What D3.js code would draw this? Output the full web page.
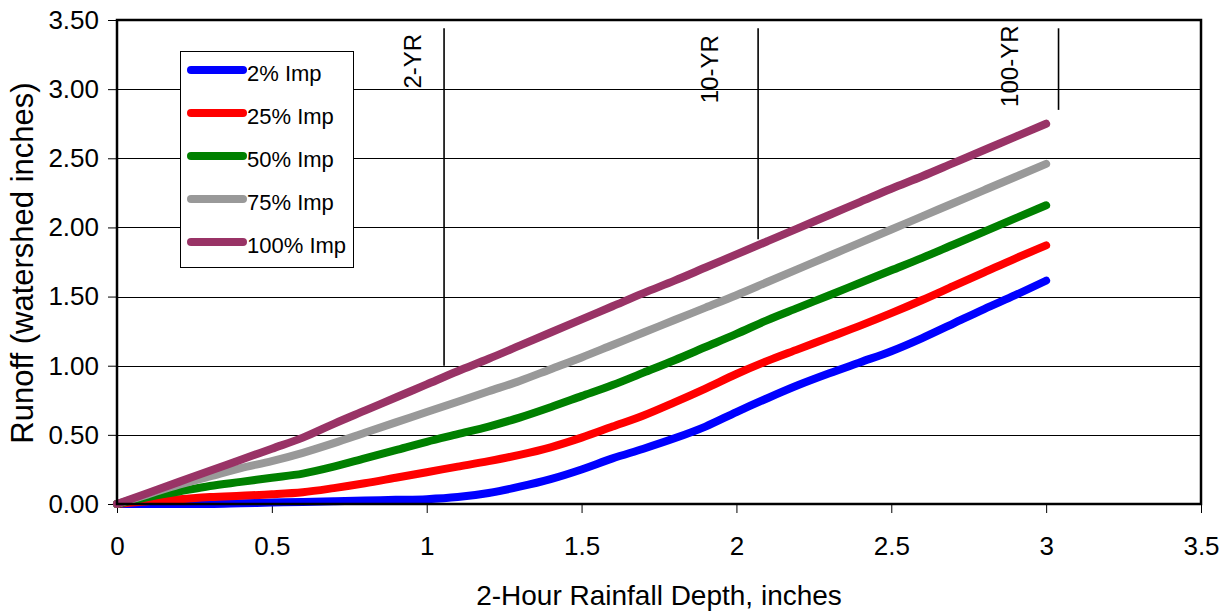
<!DOCTYPE html>
<meta charset="utf-8">
<script src="https://d3js.org/d3.v7.min.js"></script>
<style>
  body { margin: 0; background: #fff; }
  text { font-family: "Liberation Sans", Arial, sans-serif; fill: #000; }
  .grid line { stroke: #000; stroke-width: 1; }
  .axis line { stroke: #000; stroke-width: 1; }
  .axis text { font-size: 26px; }
  .series { fill: none; stroke-width: 8; stroke-linecap: round; stroke-linejoin: round; }
</style>
<div id="chart"></div>
<script>
  var width = 1228;
  var height = 616;
  var margin = { top: 20, right: 27, bottom: 112, left: 117 };

  // rainfall depth (inches)
  var depth = [0, 0.1, 0.2, 0.3, 0.4, 0.5, 0.6, 0.7, 0.8, 0.9, 1.0,
    1.1, 1.2, 1.3, 1.4, 1.5, 1.6, 1.7, 1.8, 1.9, 2.0,
    2.1, 2.2, 2.3, 2.4, 2.5, 2.6, 2.7, 2.8, 2.9, 3.0];

  // runoff (watershed inches) for each imperviousness
  var imp2 = [0, 0, 0, 0, 0.005, 0.01, 0.015, 0.02, 0.025, 0.03, 0.035,
    0.05, 0.08, 0.125, 0.18, 0.25, 0.33, 0.40, 0.475, 0.56, 0.665,
    0.765, 0.86, 0.945, 1.025, 1.105, 1.20, 1.305, 1.41, 1.51, 1.615];
  var imp25 = [0, 0.02, 0.035, 0.05, 0.06, 0.07, 0.085, 0.115, 0.15, 0.19, 0.23,
    0.27, 0.31, 0.355, 0.41, 0.48, 0.56, 0.64, 0.735, 0.835, 0.94,
    1.035, 1.12, 1.205, 1.29, 1.38, 1.475, 1.575, 1.675, 1.775, 1.87];
  var imp50 = [0, 0.05, 0.09, 0.13, 0.16, 0.19, 0.22, 0.27, 0.33, 0.39, 0.45,
    0.505, 0.56, 0.625, 0.70, 0.78, 0.86, 0.95, 1.04, 1.135, 1.23,
    1.33, 1.42, 1.51, 1.60, 1.69, 1.78, 1.875, 1.97, 2.065, 2.16];
  var imp75 = [0, 0.07, 0.14, 0.20, 0.26, 0.31, 0.37, 0.44, 0.515, 0.59, 0.665,
    0.74, 0.815, 0.89, 0.975, 1.06, 1.15, 1.24, 1.33, 1.42, 1.51,
    1.605, 1.70, 1.795, 1.89, 1.985, 2.08, 2.175, 2.27, 2.365, 2.46];
  var imp100 = [0, 0.08, 0.16, 0.24, 0.32, 0.40, 0.48, 0.58, 0.675, 0.77, 0.865,
    0.96, 1.05, 1.145, 1.24, 1.335, 1.43, 1.525, 1.615, 1.71, 1.805,
    1.90, 1.995, 2.09, 2.185, 2.28, 2.37, 2.465, 2.56, 2.655, 2.75];

  var seriesNames = ["2% Imp", "25% Imp", "50% Imp", "75% Imp", "100% Imp"];
  var seriesValues = [imp2, imp25, imp50, imp75, imp100];
  var seriesColors = ["#0000ff", "#ff0000", "#008000", "#999999", "#993366"];

  // return period markers: depth, bottom and top of the marker line
  var periodLabels = ["2-YR", "10-YR", "100-YR"];
  var periodDepth = [1.056, 2.07, 3.04];
  var periodBottom = [1.0, 1.915, 2.85];
  var periodTop = [3.44, 3.44, 3.44];

  var xTicks = [0, 0.5, 1, 1.5, 2, 2.5, 3, 3.5];
  var yTicks = [0, 0.5, 1, 1.5, 2, 2.5, 3, 3.5];

  var svg = d3.select("#chart").append("svg")
    .attr("width", width)
    .attr("height", height);

  var w = width - margin.left - margin.right;
  var h = height - margin.top - margin.bottom;

  var g = svg.append("g")
    .attr("transform", "translate(" + margin.left + "," + margin.top + ")");

  var x = d3.scaleLinear().domain([0, 3.5]).range([0, w]);
  var y = d3.scaleLinear().domain([0, 3.5]).range([h, 0]);

  // horizontal gridlines
  g.append("g").attr("class", "grid")
    .selectAll("line")
    .data(yTicks.slice(1, -1))
    .enter().append("line")
    .attr("x1", 0).attr("x2", w)
    .attr("y1", function (d) { return Math.round(y(d)) + 0.5; })
    .attr("y2", function (d) { return Math.round(y(d)) + 0.5; });

  // axes
  var yAxis = g.append("g").attr("class", "axis")
    .call(d3.axisLeft(y).tickValues(yTicks).tickFormat(d3.format(".2f")).tickSize(9).tickPadding(9));
  yAxis.select(".domain").remove();

  var xAxis = g.append("g").attr("class", "axis")
    .attr("transform", "translate(0," + h + ")")
    .call(d3.axisBottom(x).tickValues(xTicks).tickFormat(d3.format("")).tickSize(9));
  xAxis.select(".domain").remove();
  xAxis.selectAll("text").attr("y", 51).attr("dy", 0);

  // return period markers
  var markers = g.append("g");
  markers.selectAll("line")
    .data(periodLabels)
    .enter().append("line")
    .attr("x1", function (d, i) { return x(periodDepth[i]); })
    .attr("x2", function (d, i) { return x(periodDepth[i]); })
    .attr("y1", function (d, i) { return y(periodBottom[i]); })
    .attr("y2", function (d, i) { return y(periodTop[i]); })
    .attr("stroke", "#000")
    .attr("stroke-width", 1.6);

  var labelShift = [23, 40, 41];
  var labelTop = [3.4, 3.39, 3.46];
  markers.selectAll("text")
    .data(periodLabels)
    .enter().append("text")
    .attr("transform", function (d, i) {
      return "translate(" + (x(periodDepth[i]) - labelShift[i]) + "," + y(labelTop[i]) + ") rotate(-90)";
    })
    .attr("text-anchor", "end")
    .style("font-size", "24px")
    .text(function (d) { return d; });

  // runoff curves
  var line = d3.line()
    .curve(d3.curveMonotoneX)
    .x(function (d) { return x(d[0]); })
    .y(function (d) { return y(d[1]); });

  g.append("g").selectAll("path")
    .data(seriesValues)
    .enter().append("path")
    .attr("class", "series")
    .attr("stroke", function (d, i) { return seriesColors[i]; })
    .attr("d", function (vals) {
      return line(depth.map(function (dx, j) { return [dx, vals[j]]; }));
    });

  // plot frame
  g.append("rect")
    .attr("x", 0).attr("y", 0)
    .attr("width", w).attr("height", h)
    .attr("fill", "none")
    .attr("stroke", "#000")
    .attr("stroke-width", 2.5);

  // legend
  var legend = g.append("g").attr("transform", "translate(63,31)");
  legend.append("rect")
    .attr("x", 0.5).attr("y", 0.5)
    .attr("width", 173).attr("height", 216)
    .attr("fill", "#fff")
    .attr("stroke", "#000")
    .attr("stroke-width", 1);

  var rows = legend.selectAll(".row")
    .data(seriesNames)
    .enter().append("g")
    .attr("class", "row")
    .attr("transform", function (d, i) { return "translate(0," + (19 + i * 43) + ")"; });

  rows.append("line")
    .attr("x1", 11).attr("x2", 63)
    .attr("stroke", function (d, i) { return seriesColors[i]; })
    .attr("stroke-width", 8)
    .attr("stroke-linecap", "round");

  rows.append("text")
    .attr("x", 67).attr("y", 11)
    .style("font-size", "22px")
    .text(function (d) { return d; });

  // axis titles
  svg.append("text")
    .attr("x", margin.left + w / 2)
    .attr("y", 605)
    .attr("text-anchor", "middle")
    .style("font-size", "28px")
    .text("2-Hour Rainfall Depth, inches");

  svg.append("text")
    .attr("transform", "translate(33," + 263 + ") rotate(-90)")
    .attr("text-anchor", "middle")
    .style("font-size", "31px")
    .text("Runoff (watershed inches)");
</script>
